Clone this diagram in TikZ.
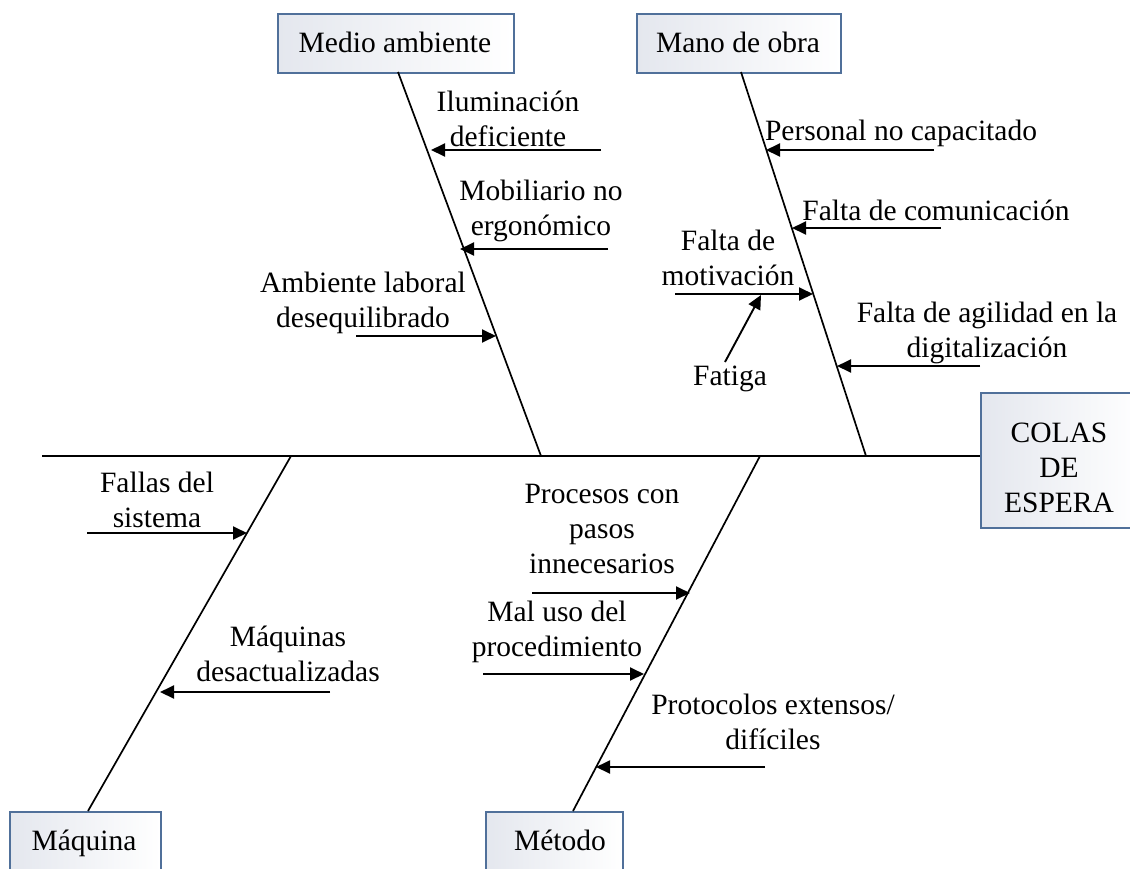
\documentclass[tikz,border=0pt]{standalone}
\usepackage{fontspec}
\setmainfont{Liberation Serif}
\usetikzlibrary{arrows.meta}
\definecolor{boxgray}{RGB}{228,231,238}
\definecolor{boxline}{RGB}{80,112,154}
\begin{document}
\begin{tikzpicture}[x=1pt,y=-1pt,
  every node/.style={font=\fontsize{29.5}{35}\selectfont, inner sep=0pt},
  cause/.style={align=center, anchor=base},
  catbox/.style={draw=boxline, line width=1.5pt, left color=boxgray, right color=white, anchor=north west},
  bone/.style={line width=1.7pt},
  arr/.style={line width=1.9pt, -{Triangle[length=14pt,width=13pt]}},
]
\useasboundingbox (0,0) rectangle (1130,868);
\clip (0,0) rectangle (1130,868);

% category boxes
\node[catbox, minimum width=236pt, minimum height=59pt] (ma) at (277,13) {};
\node[cause] (matxt) at (395,52) {Medio ambiente};
\node[catbox, minimum width=204pt, minimum height=59pt] (mo) at (636,13) {};
\node[cause] (motxt) at (738,52) {Mano de obra};
\node[catbox, minimum width=151pt, minimum height=70pt] (maq) at (9,811) {};
\node[cause] (maqtxt) at (84,850) {Máquina};
\node[catbox, minimum width=137pt, minimum height=70pt] (met) at (485,811) {};
\node[cause] (mettxt) at (560,850) {Método};
\node[catbox, minimum width=160pt, minimum height=135pt] (colas) at (980,392) {};
\node[cause] (colastxt) at (1059,512) {COLAS\\DE\\ESPERA};

% spine and bones
\coordinate (spL) at (42,456);
\coordinate (spR) at (980,456);
\draw[bone] (spL) -- (spR);
\coordinate (maT) at (398,72);  \coordinate (maB) at (541,456);
\coordinate (moT) at (741,72);  \coordinate (moB) at (866,456);
\coordinate (maqT) at (291,456); \coordinate (maqB) at (88,811);
\coordinate (metT) at (760,456); \coordinate (metB) at (573,811);
\draw[bone] (maT) -- (maB);
\draw[bone] (moT) -- (moB);
\draw[bone] (maqT) -- (maqB);
\draw[bone] (metT) -- (metB);

% Medio ambiente causes
\node[cause] (c1) at (508,146) {Iluminación\\deficiente};
\coordinate (c1s) at (601,150); \coordinate (c1e) at (431,150);
\draw[arr] (c1s) -- (c1e);
\node[cause] (c2) at (541,235) {Mobiliario no\\ergonómico};
\coordinate (c2s) at (608,249); \coordinate (c2e) at (460,249);
\draw[arr] (c2s) -- (c2e);
\node[cause] (c3) at (363,327) {Ambiente laboral\\desequilibrado};
\coordinate (c3s) at (356,336); \coordinate (c3e) at (496,336);
\draw[arr] (c3s) -- (c3e);

% Mano de obra causes
\node[cause] (c4) at (901,140) {Personal no capacitado};
\coordinate (c4s) at (934,150); \coordinate (c4e) at (766,150);
\draw[arr] (c4s) -- (c4e);
\node[cause] (c5) at (936,220) {Falta de comunicación};
\coordinate (c5s) at (941,228); \coordinate (c5e) at (792,228);
\draw[arr] (c5s) -- (c5e);
\node[cause] (c6) at (728,285) {Falta de\\motivación};
\coordinate (c6s) at (675,294); \coordinate (c6e) at (813,294);
\draw[arr] (c6s) -- (c6e);
\node[cause] (c7) at (730,385) {Fatiga};
\coordinate (c7s) at (725,362); \coordinate (c7e) at (761,295);
\draw[arr] (c7s) -- (c7e);
\node[cause] (c8) at (987,357) {Falta de agilidad en la\\digitalización};
\coordinate (c8s) at (980,366); \coordinate (c8e) at (837,366);
\draw[arr] (c8s) -- (c8e);

% Maquina causes
\node[cause] (c9) at (157,527) {Fallas del\\sistema};
\coordinate (c9s) at (87,533); \coordinate (c9e) at (247,533);
\draw[arr] (c9s) -- (c9e);
\node[cause] (c10) at (288,681) {Máquinas\\desactualizadas};
\coordinate (c10s) at (330,692); \coordinate (c10e) at (160,692);
\draw[arr] (c10s) -- (c10e);

% Metodo causes
\node[cause] (c11) at (602,573) {Procesos con\\pasos\\innecesarios};
\coordinate (c11s) at (532,593); \coordinate (c11e) at (690,593);
\draw[arr] (c11s) -- (c11e);
\node[cause] (c12) at (557,656) {Mal uso del\\procedimiento};
\coordinate (c12s) at (483,674); \coordinate (c12e) at (644,674);
\draw[arr] (c12s) -- (c12e);
\node[cause] (c13) at (773,749) {Protocolos extensos/\\difíciles};
\coordinate (c13s) at (765,767); \coordinate (c13e) at (596,767);
\draw[arr] (c13s) -- (c13e);
\end{tikzpicture}
\end{document}
